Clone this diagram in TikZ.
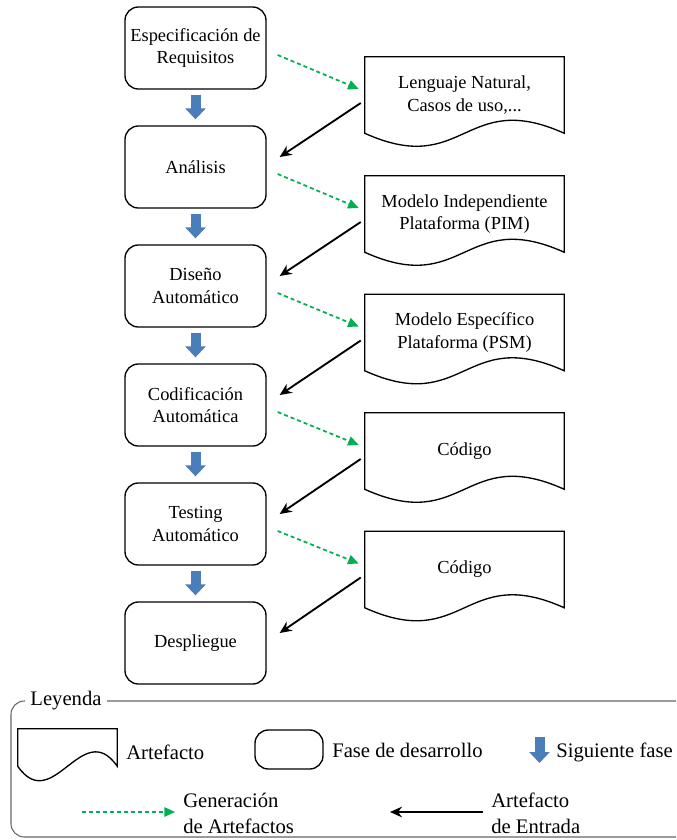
\documentclass[tikz,border=0pt]{standalone}
\usepackage{fontspec}
\setmainfont{LiberationSerif}[Extension=.ttf,UprightFont=*-Regular,BoldFont=*-Bold,
  ItalicFont=*-Italic,BoldItalicFont=*-BoldItalic]
\usetikzlibrary{arrows.meta,calc}
\definecolor{azulfase}{RGB}{74,126,187}
\definecolor{verdegen}{RGB}{0,176,80}

\begin{document}
\begin{tikzpicture}[x=0.75pt,y=-0.75pt,
    fase/.style={draw,line width=1pt,rounded corners=10pt,minimum width=105.75pt,
      minimum height=61.5pt,align=center,font=\fontsize{13.8}{17}\selectfont},
    artef/.style={minimum width=149.25pt,minimum height=57pt,align=center,
      font=\fontsize{13.8}{17}\selectfont},
    leytxt/.style={inner sep=0pt,align=left,font=\fontsize{15.5}{19.5}\selectfont},
    sigfase/.style={draw=azulfase,line width=7.5pt,-{Triangle[width=15pt,length=8.25pt]}},
    genart/.style={verdegen,line width=1.3pt,dash pattern=on 3pt off 2.25pt,
      -{Triangle[width=7pt,length=8pt]}},
    entrada/.style={line width=1.4pt,-{Stealth[width=8pt,length=9pt]}}]
  \useasboundingbox (0,0) rectangle (676,840);

  % fases
  \node[fase] (p1) at (195.5,48) {Especificación de\\Requisitos};
  \node[fase] (p2) at (195.5,167) {Análisis};
  \node[fase] (p3) at (195.5,286) {Diseño\\Automático};
  \node[fase] (p4) at (195.5,405) {Codificación\\Automática};
  \node[fase] (p5) at (195.5,524) {Testing\\Automático};
  \node[fase] (p6) at (195.5,643) {Despliegue};

  % artefactos
  \node[artef] (a1) at (464.5,95) {Lenguaje Natural,\\Casos de uso,...};
  \node[artef] (a2) at (464.5,214) {Modelo Independiente\\Plataforma (PIM)};
  \node[artef] (a3) at (464.5,332.5) {Modelo Específico\\Plataforma (PSM)};
  \node[artef] (a4) at (464.5,451) {Código};
  \node[artef] (a5) at (464.5,569.5) {Código};
  \foreach \i in {1,...,5}
    \draw[line width=1pt] (a\i.north west) -- (a\i.north east) -- (a\i.south east)
      .. controls +(-100,-45) and +(100,45) .. (a\i.south west) -- cycle;

  \foreach \i/\j in {1/2,2/3,3/4,4/5,5/6} {
    \draw[sigfase,shorten <=3.75pt,shorten >=4.5pt] (p\i.south) -- (p\j.north);
  }
  \foreach \i/\j in {1/2,2/3,3/4,4/5,5/6} {
    \draw[genart] ($(p\i.east)+(11,7)$) -- ($(a\i.west)+(-6,-6)$);
    \draw[entrada] ($(a\i.west)+(-4,8)$) -- ($(p\j.east)+(13,-10)$);
  }

  % leyenda
  \draw[black!60,line width=0.8pt,rounded corners=10pt]
    (676,701) -- (11,701) -- (11,837) -- (676,837);
  \node[fill=white,inner xsep=4pt,inner ysep=0pt,font=\fontsize{15.5}{19.5}\selectfont]
    (ley) at (66,701) {Leyenda};

  \node[minimum width=74.25pt,minimum height=27.75pt] (ld) at (67.5,747.5) {};
  \draw[line width=1pt] (ld.north west) -- (ld.north east) -- (ld.south east)
    .. controls +(-35,-50) and +(35,50) .. (ld.south west) -- cycle;
  \node[leytxt,anchor=west] (ldt) at (126,752) {Artefacto};

  \node[fase,minimum width=51pt,minimum height=29.25pt] (lf) at (289,749.5) {};
  \node[leytxt,anchor=west] (lft) at (332,750) {Fase de desarrollo};

  \coordinate (ls1) at (539.5,737);
  \coordinate (ls2) at (539.5,763);
  \draw[sigfase] (ls1) -- (ls2);
  \node[leytxt,anchor=west] (lst) at (556,752) {Siguiente fase};

  \coordinate (lg1) at (82,812);
  \coordinate (lg2) at (175,812);
  \draw[genart] (lg1) -- (lg2);
  \node[leytxt,anchor=west] (lgt) at (183,813) {Generación\\de Artefactos};

  \coordinate (le1) at (483,812);
  \coordinate (le2) at (390,812);
  \draw[entrada] (le1) -- (le2);
  \node[leytxt,anchor=west] (let) at (491,813) {Artefacto\\de Entrada};
\end{tikzpicture}
\end{document}
